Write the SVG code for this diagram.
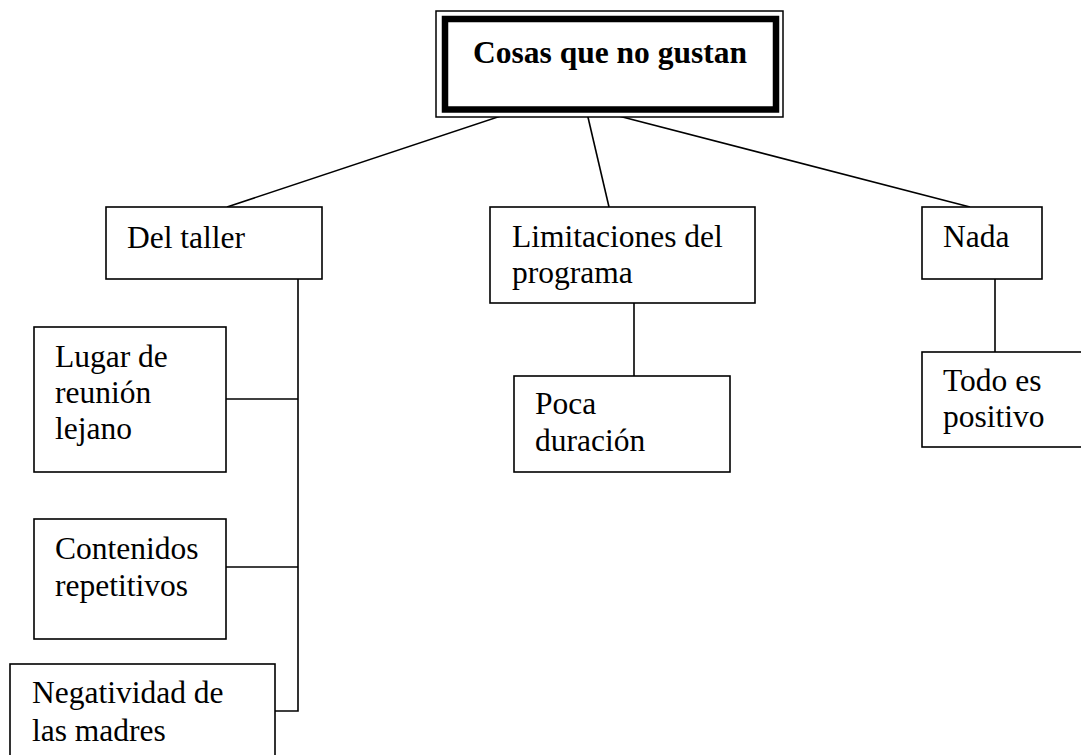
<svg xmlns="http://www.w3.org/2000/svg" width="1081" height="755" viewBox="0 0 1081 755">
<style>
.box{fill:#fff;stroke:#000;stroke-width:1.6}
.t{font-family:"Liberation Serif","Times New Roman",serif;font-size:31.5px;fill:#000}
.b{font-weight:bold;font-size:31.5px}
.c{stroke:#000;stroke-width:1.6;fill:none}
</style>
<rect width="1081" height="755" fill="#fff"/>
<g id="connectors">
<line class="c" x1="510" y1="113" x2="227" y2="207"/>
<line class="c" x1="587" y1="113" x2="609" y2="207"/>
<line class="c" x1="607" y1="113" x2="970" y2="207"/>
<polyline class="c" points="298,279 298,711 275,711"/>
<line class="c" x1="226" y1="399" x2="298" y2="399"/>
<line class="c" x1="226" y1="567" x2="298" y2="567"/>
<line class="c" x1="634" y1="303" x2="634" y2="376"/>
<line class="c" x1="995" y1="279" x2="995" y2="352"/>
</g>
<g id="root">
<rect x="436" y="11" width="347" height="106" fill="#fff" stroke="#000" stroke-width="1.5"/>
<rect x="445" y="19" width="331" height="90.5" fill="#fff" stroke="#000" stroke-width="6.5"/>
<text class="t b" x="473" y="63">Cosas que no gustan</text>
</g>
<g id="del-taller">
<rect class="box" x="106" y="207" width="216" height="72"/>
<text class="t" x="127" y="248">Del taller</text>
</g>
<g id="limitaciones">
<rect class="box" x="490" y="207" width="265" height="96"/>
<text class="t" x="512" y="247">Limitaciones del</text>
<text class="t" x="512" y="283">programa</text>
</g>
<g id="nada">
<rect class="box" x="922" y="207" width="120" height="72"/>
<text class="t" x="943" y="247">Nada</text>
</g>
<g id="lugar">
<rect class="box" x="34" y="327" width="192" height="145"/>
<text class="t" x="55" y="367">Lugar de</text>
<text class="t" x="55" y="403">reunión</text>
<text class="t" x="55" y="439">lejano</text>
</g>
<g id="contenidos">
<rect class="box" x="34" y="519" width="192" height="120"/>
<text class="t" x="55" y="559">Contenidos</text>
<text class="t" x="55" y="596">repetitivos</text>
</g>
<g id="negatividad">
<rect class="box" x="10" y="664" width="265" height="100"/>
<text class="t" x="32" y="703">Negatividad de</text>
<text class="t" x="32" y="741">las madres</text>
</g>
<g id="poca">
<rect class="box" x="514" y="376" width="216" height="96"/>
<text class="t" x="535" y="414">Poca</text>
<text class="t" x="535" y="451">duración</text>
</g>
<g id="todo">
<rect class="box" x="922" y="352" width="170" height="95"/>
<text class="t" x="943" y="391">Todo es</text>
<text class="t" x="943" y="427">positivo</text>
</g>
</svg>
